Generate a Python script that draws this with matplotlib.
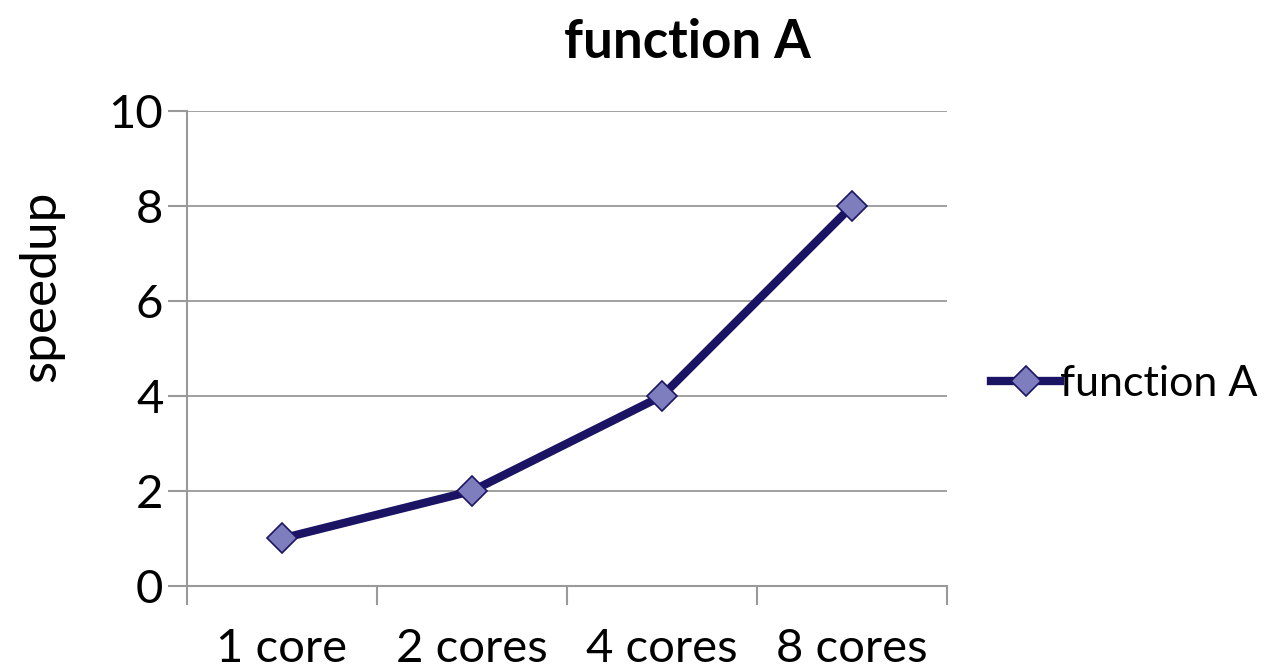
import matplotlib.pyplot as plt

cores = ['1 core', '2 cores', '4 cores', '8 cores']
speedup = [1, 2, 4, 8]
yticks = [0, 2, 4, 6, 8, 10]

plt.rcParams['font.family'] = ['Lato', 'DejaVu Sans']

fig = plt.figure(figsize=(12.72, 6.71), dpi=100)
ax = fig.add_axes([0.147, 0.1267, 0.5975, 0.7079])

x = list(range(len(cores)))
ax.plot(x, speedup, color='#1b1464', linewidth=6, marker='D', markersize=15,
        markerfacecolor='#7e7ebe', markeredgecolor='#1b1464', markeredgewidth=1.2,
        label='function A', zorder=3)

ax.set_xlim(-0.5, len(cores) - 0.5)
ax.set_ylim(0, 10)
ax.set_yticks(yticks)
ax.set_yticklabels([str(v) for v in yticks], fontsize=34)

# category ticks sit on the bin edges, labels in between
ax.set_xticks([i - 0.5 for i in range(len(cores) + 1)])
ax.set_xticklabels([])
ax.set_xticks(x, minor=True)
ax.set_xticklabels(cores, minor=True, fontsize=34)
ax.tick_params(axis='x', which='minor', length=0, pad=30)
ax.tick_params(axis='x', which='major', length=14, width=1.5, color='#999999')
ax.tick_params(axis='y', length=14, width=1.5, color='#999999', pad=3)

ax.grid(axis='y', color='#999999', linewidth=1.3)
ax.set_axisbelow(True)
for s in ['top', 'right']:
    ax.spines[s].set_visible(False)
for s in ['left', 'bottom']:
    ax.spines[s].set_color('#999999')
    ax.spines[s].set_linewidth(1.5)

ax.set_ylabel('speedup', fontsize=37)
ax.yaxis.set_label_coords(-0.162, 0.63)
ax.set_title('function A', fontsize=38, fontweight='bold', pad=38, x=0.658)

ax.legend(loc='center left', bbox_to_anchor=(1.058, 0.425), frameon=False,
          fontsize=31, handlelength=1.6, handletextpad=0.0, borderpad=0,
          borderaxespad=0)

fig.savefig('out.png', dpi=100)
